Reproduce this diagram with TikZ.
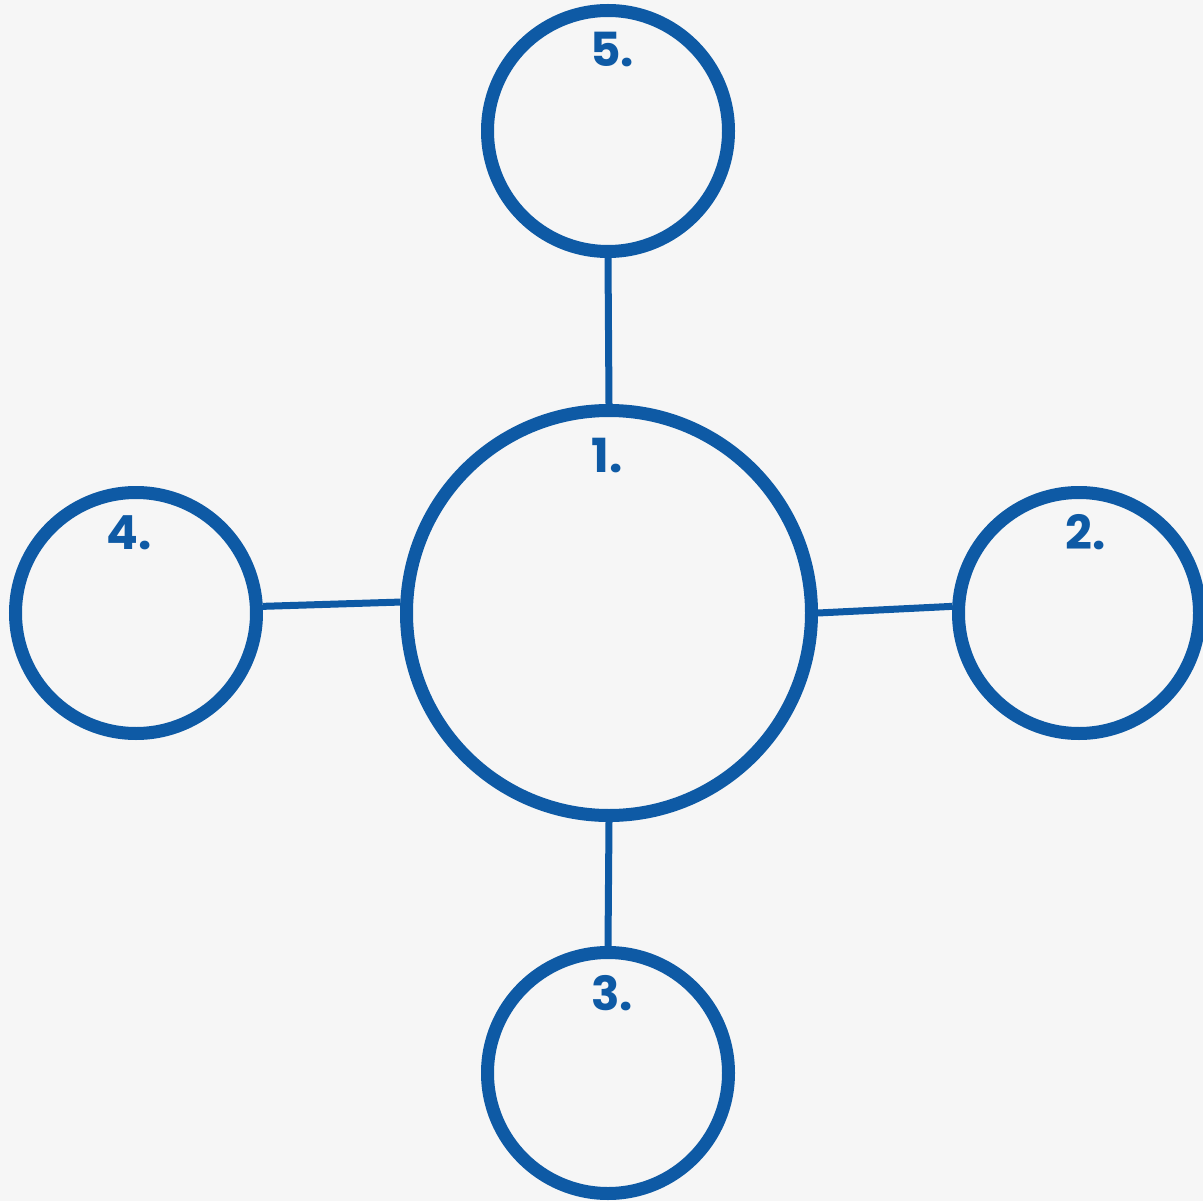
\documentclass[tikz,border=0pt]{standalone}
\usepackage{fontspec}
\setmainfont{Poppins}
\definecolor{ringblue}{RGB}{14,90,165}
\definecolor{paper}{RGB}{246,246,246}
\begin{document}
\begin{tikzpicture}[x=1pt,y=-1pt,
  ring/.style={circle,draw=ringblue,line width=13pt,fill=paper,inner sep=0pt},
  bigring/.style={ring,minimum size=405pt},
  smallring/.style={ring,minimum size=241pt},
  link/.style={draw=ringblue,line width=7pt},
  num/.style={text=ringblue,font=\fontsize{47}{47}\selectfont\bfseries,anchor=base,inner sep=0pt}]
  % paper background
  \fill[paper] (0,0) rectangle (1203,1201);
  \useasboundingbox (0,0) rectangle (1203,1201);
  % ring centres
  \coordinate (p1) at (609,613);
  \coordinate (p2) at (1079,613);
  \coordinate (p3) at (608,1073);
  \coordinate (p4) at (136,613);
  \coordinate (p5) at (608,131);
  % rings
  \node[bigring] (c1) at (p1) {};
  \node[smallring] (c2) at (p2) {};
  \node[smallring] (c3) at (p3) {};
  \node[smallring] (c4) at (p4) {};
  \node[smallring] (c5) at (p5) {};
  % connectors between the rings
  \draw[link] (c5.south) -- (c1.north);
  \draw[link] (c1.south) -- (c3.north);
  \draw[link] (c4.3) -- (c1.177);
  \draw[link] (c1.0.5) -- (c2.177.7);
  % labels
  \node[num] (n1) at (607,472) {1.};
  \node[num] (n2) at (1086,549) {2.};
  \node[num] (n3) at (612,1010) {3.};
  \node[num] (n4) at (129,549) {4.};
  \node[num] (n5) at (612,67) {5.};
\end{tikzpicture}
\end{document}
